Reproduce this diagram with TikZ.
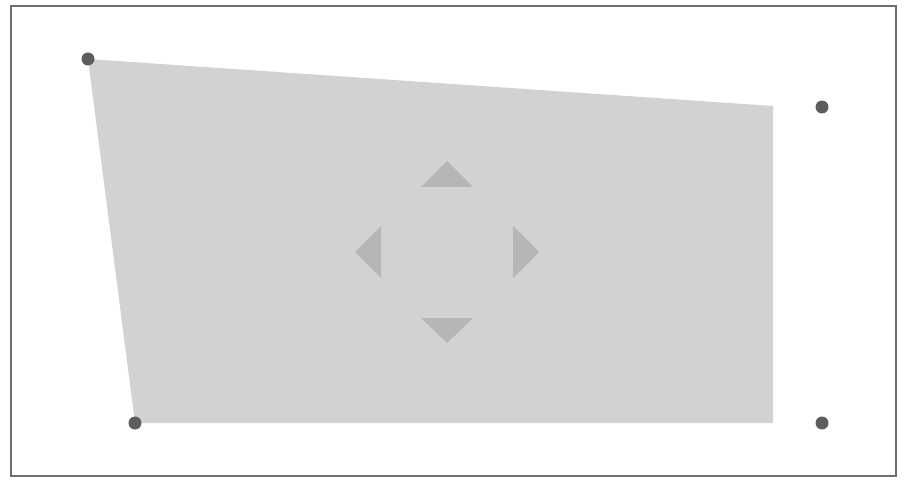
\documentclass[tikz,border=0pt]{standalone}
\usepackage{tikz}

\definecolor{framegray}{HTML}{6E6F71}
\definecolor{areagray}{HTML}{D1D2D4}
\definecolor{arrowgray}{HTML}{B5B6B8}
\definecolor{dotgray}{HTML}{5B5D5F}

\begin{document}
\begin{tikzpicture}[x=1pt,y=-1pt,
  handle/.style={fill=dotgray},
  pointer/.style={fill=arrowgray}]
  \useasboundingbox (0,0) rectangle (906,484);
  \draw[line width=1.6pt,framegray] (11,6) rectangle (896,476);
  % corners of the shape
  \coordinate (tl) at (88,59);
  \coordinate (tr) at (773,106);
  \coordinate (br) at (773,423);
  \coordinate (bl) at (135,423);
  \fill[areagray] (tl)--(tr)--(br)--(bl)--cycle;
  % move arrows
  \coordinate (c) at (447,252);
  \fill[pointer] ([shift={(0,-91)}]c)--([shift={(26,-65)}]c)--([shift={(-26,-65)}]c)--cycle;
  \fill[pointer] ([shift={(0,91)}]c)--([shift={(26,66)}]c)--([shift={(-26,66)}]c)--cycle;
  \fill[pointer] ([shift={(-92,0)}]c)--([shift={(-66,-26)}]c)--([shift={(-66,26)}]c)--cycle;
  \fill[pointer] ([shift={(92,0)}]c)--([shift={(66,-26)}]c)--([shift={(66,26)}]c)--cycle;
  % handles
  \fill[handle] (tl) circle (6.5);
  \fill[handle] (bl) circle (6.5);
  \fill[handle] (822,107) circle (6.5);
  \fill[handle] (822,423) circle (6.5);
\end{tikzpicture}
\end{document}
